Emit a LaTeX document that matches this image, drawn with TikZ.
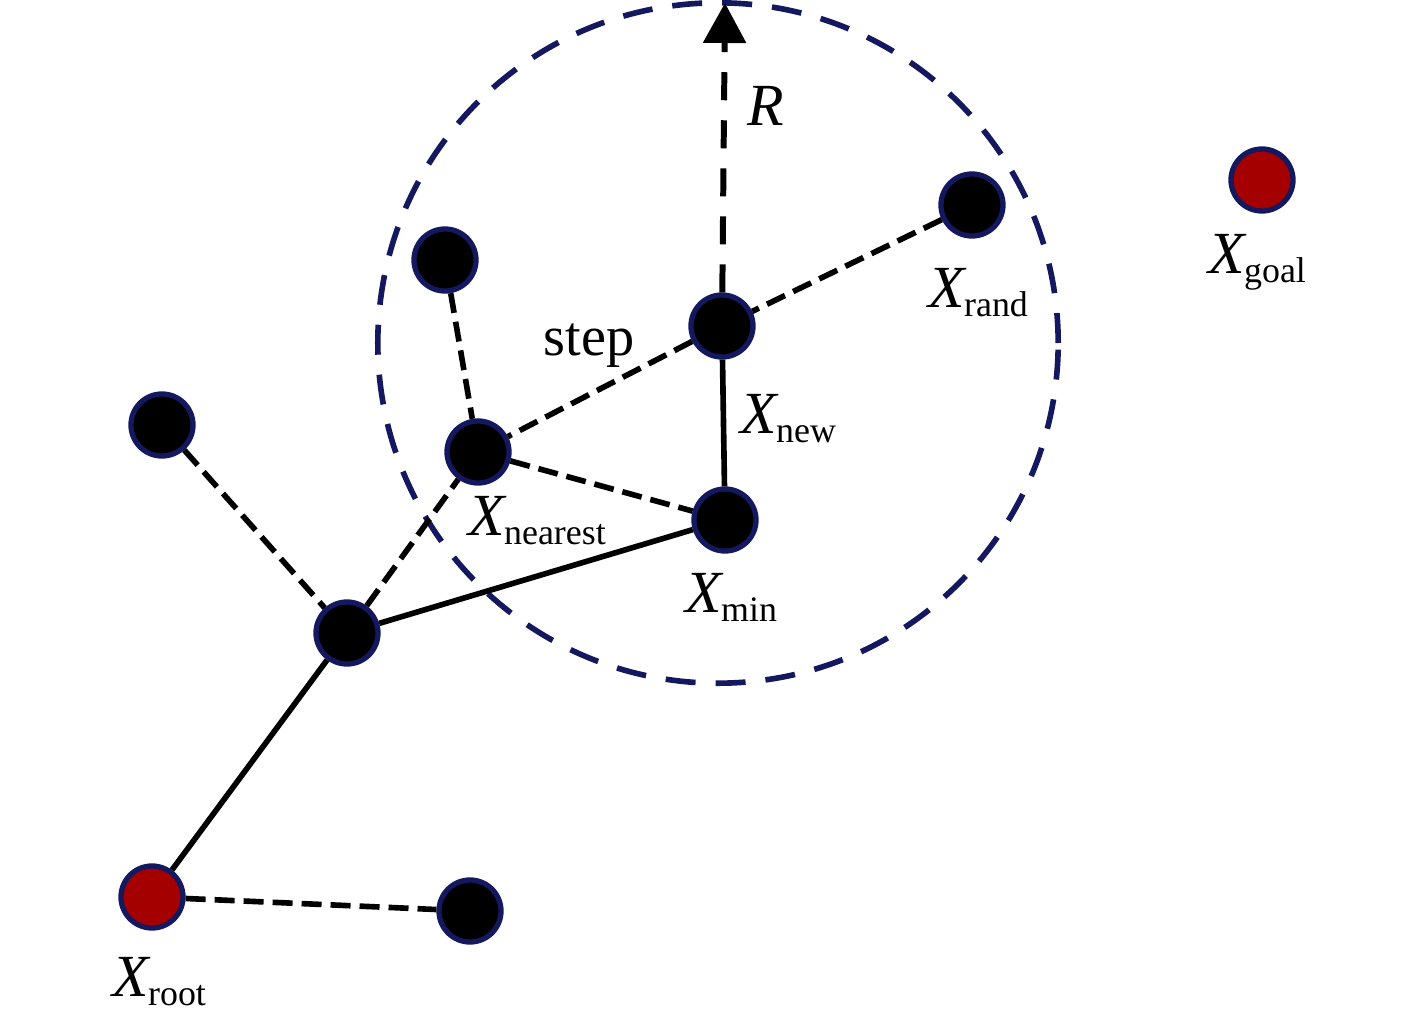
\documentclass[tikz,border=0pt]{standalone}
\usepackage{fontspec}
\setmainfont{Liberation Serif}
\usetikzlibrary{arrows.meta}
\definecolor{navy}{RGB}{20,24,95}
\definecolor{darkred}{RGB}{165,0,0}
\newcommand{\lab}[1]{{\fontsize{17}{20}\selectfont\itshape X}\kern-0.3pt\raisebox{-2.6pt}{\fontsize{10.2}{12}\selectfont #1}}
\tikzset{
  vtx/.style={circle, fill=black, draw=navy, line width=1.5pt, inner sep=0pt, minimum size=0.62cm},
  endvtx/.style={vtx, fill=darkred},
  edgesolid/.style={line width=1.6pt, black},
  edgedash/.style={line width=1.6pt, black, dash pattern=on 0.2cm off 0.09cm},
  lbl/.style={anchor=base west, inner sep=0pt},
}
\begin{document}
\begin{tikzpicture}[x=0.01cm, y=-0.01cm]
\useasboundingbox (0,0) rectangle (1417,1009);
% big dashed circle
\node[circle, draw=navy, line width=1.6pt, dash pattern=on 0.3cm off 0.2cm, minimum size=6.8cm, inner sep=0pt] (range) at (718,343) {};
% vertices
\node[vtx] (tl) at (445,260) {};
\node[vtx] (rand) at (972,205) {};
\node[endvtx] (goal) at (1262,180) {};
\node[vtx] (new) at (722,326) {};
\node[vtx] (left) at (162,425) {};
\node[vtx] (nearest) at (478,452) {};
\node[vtx] (min) at (725,520) {};
\node[vtx] (junc) at (347,633) {};
\node[endvtx] (root) at (152,897) {};
\node[vtx] (bot) at (470,911) {};
\coordinate (rtop) at (725,3);
% edges
\draw[edgedash] (rand) -- (new);
\draw[edgedash] (new) -- (nearest);
\draw[edgedash] (tl) -- (nearest);
\draw[edgedash] (nearest) -- (min);
\draw[edgesolid] (new) -- (min);
\draw[edgesolid] (min) -- (junc);
\draw[edgedash] (junc) -- (nearest);
\draw[edgedash] (left) -- (junc);
\draw[edgesolid] (junc) -- (root);
\draw[edgedash] (root) -- (bot);
\draw[line width=1.7pt, black, dash pattern=on 0.28cm off 0.2cm, -{Triangle[width=0.42cm,length=0.4cm]}] (new) -- (rtop);
% labels
\node[lbl] (lR) at (747,125) {\fontsize{17}{20}\selectfont\itshape R};
\node[lbl] (lstep) at (543,355) {\fontsize{16}{19}\selectfont step};
\node[lbl] (lnew) at (740,433) {\lab{new}};
\node[lbl] (lnearest) at (468,535) {\lab{nearest}};
\node[lbl] (lmin) at (685,612) {\lab{min}};
\node[lbl] (lrand) at (928,307) {\lab{rand}};
\node[lbl] (lgoal) at (1208,273) {\lab{goal}};
\node[lbl] (lroot) at (112,996) {\lab{root}};
\end{tikzpicture}
\end{document}
